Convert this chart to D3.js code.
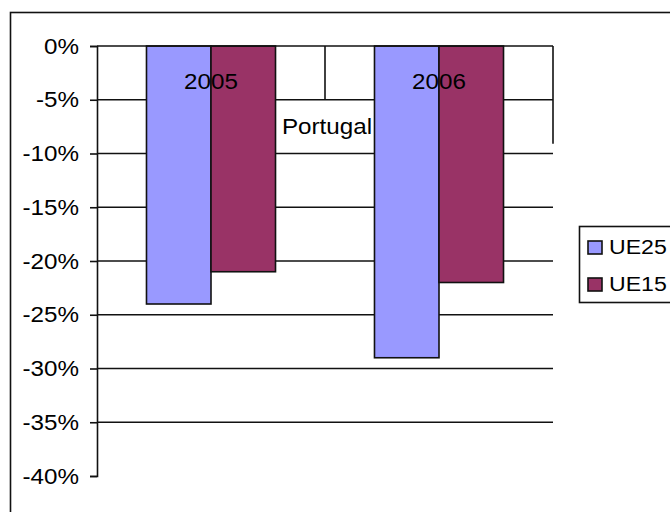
<!DOCTYPE html>
<html>
<head>
<meta charset="utf-8">
<script src="https://cdn.jsdelivr.net/npm/d3@7/dist/d3.min.js"></script>
<style>
  html, body { margin: 0; padding: 0; background: #fff; }
  svg { display: block; }
  text { font-family: "Liberation Sans", Arial, sans-serif; fill: #000; }
</style>
</head>
<body>
<svg id="chart" width="670" height="512"></svg>
<script>
// Chart data
const years = ["2005", "2006"];
const groupLabel = "Portugal";
const seriesNames = ["UE25", "UE15"];
const ue25 = [-24, -29];
const ue15 = [-21, -22];
const yTicks = [0, -5, -10, -15, -20, -25, -30, -35, -40];
const seriesColors = ["#9999FF", "#993366"];

const svg = d3.select("#chart");
const ink = "#111";
const widen = 1.1;

// Widen a text element horizontally about its own anchor point
function stretch(sel) {
  sel.each(function () {
    const t = d3.select(this);
    const x = +t.attr("x") || 0;
    t.attr("transform", `translate(${x},0) scale(${widen},1) translate(${-x},0)`);
  });
}

// Outer chart frame (continues past the right and bottom edges)
svg.append("rect")
  .attr("x", 10.5).attr("y", 12.5)
  .attr("width", 700).attr("height", 600)
  .attr("fill", "none").attr("stroke", ink).attr("stroke-width", 1.6);

const plot = { left: 97, right: 553, top: 46, bottom: 476 };

const y = d3.scaleLinear().domain([-40, 0]).range([plot.bottom, plot.top]);
const x0 = d3.scaleBand().domain(years).range([plot.left, plot.right]).padding(0);
const x1 = d3.scaleBand().domain(seriesNames)
  .range([0, x0.bandwidth()]).paddingInner(0).paddingOuter(0.767);

// Horizontal gridlines
svg.append("g").selectAll("line")
  .data(yTicks.filter(t => t < 0 && t > -40))
  .join("line")
  .attr("x1", plot.left).attr("x2", plot.right)
  .attr("y1", d => y(d)).attr("y2", d => y(d))
  .attr("stroke", ink).attr("stroke-width", 1.6);

// Bars
const rows = years.map((yr, i) => ({ year: yr, values: [ue25[i], ue15[i]] }));
const groups = svg.append("g").selectAll("g")
  .data(rows).join("g")
  .attr("transform", d => `translate(${x0(d.year)},0)`);
groups.selectAll("rect")
  .data(d => d.values.map((v, k) => ({ name: seriesNames[k], v, k })))
  .join("rect")
  .attr("x", d => x1(d.name))
  .attr("width", x1.bandwidth())
  .attr("y", y(0))
  .attr("height", d => y(d.v) - y(0))
  .attr("fill", d => seriesColors[d.k])
  .attr("stroke", ink).attr("stroke-width", 1.6);

// Value axis
const yAxis = d3.axisLeft(y).tickValues(yTicks).tickSize(7).tickPadding(11)
  .tickFormat(d => d + "%");
const ya = svg.append("g").attr("transform", `translate(${plot.left},0)`).call(yAxis);
ya.select(".domain").attr("stroke", ink).attr("stroke-width", 1.6);
ya.selectAll(".tick line").attr("stroke", ink).attr("stroke-width", 1.6);
ya.selectAll(".tick text").style("font-size", "22px").attr("fill", "#000")
  .style("font-family", '"Liberation Sans", Arial, sans-serif')
  .call(stretch);

// Category axis along the zero line
svg.append("line")
  .attr("x1", plot.left).attr("x2", plot.right)
  .attr("y1", y(0)).attr("y2", y(0))
  .attr("stroke", ink).attr("stroke-width", 1.6);
// inner-level divider between the years and the outer-level end tick
svg.append("line")
  .attr("x1", x0("2006")).attr("x2", x0("2006"))
  .attr("y1", y(0)).attr("y2", y(-5))
  .attr("stroke", ink).attr("stroke-width", 1.6);
svg.append("line")
  .attr("x1", plot.right).attr("x2", plot.right)
  .attr("y1", y(0)).attr("y2", y(-9.1))
  .attr("stroke", ink).attr("stroke-width", 1.6);

// Year labels
svg.append("g").selectAll("text")
  .data(years).join("text")
  .attr("x", d => x0(d) + x0.bandwidth() / 2)
  .attr("y", 89)
  .attr("text-anchor", "middle")
  .style("font-size", "22px")
  .text(d => d)
  .call(stretch);

// Outer category label
svg.append("text")
  .attr("x", (plot.left + plot.right) / 2 + 2)
  .attr("y", 134)
  .attr("text-anchor", "middle")
  .style("font-size", "22px")
  .text(groupLabel)
  .call(stretch);

// Legend
const lg = svg.append("g");
lg.append("rect")
  .attr("x", 579.5).attr("y", 226.5).attr("width", 120).attr("height", 76)
  .attr("fill", "#fff").attr("stroke", ink).attr("stroke-width", 1.6);
const items = lg.selectAll("g").data(seriesNames).join("g")
  .attr("transform", (d, i) => `translate(588,${241 + i * 37})`);
items.append("rect")
  .attr("width", 14).attr("height", 13)
  .attr("fill", (d, i) => seriesColors[i])
  .attr("stroke", ink).attr("stroke-width", 1.6);
items.append("text")
  .attr("x", 21).attr("y", 13)
  .style("font-size", "21px")
  .text(d => d)
  .call(stretch);
</script>
</body>
</html>
